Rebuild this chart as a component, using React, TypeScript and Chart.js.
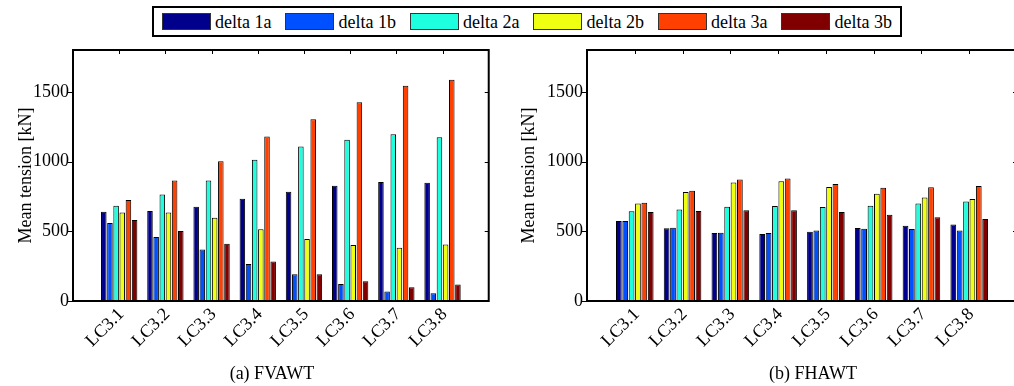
import React, { useEffect, useRef } from 'react';
import { Chart, registerables } from 'chart.js';

Chart.register(...registerables);

// ---------- data ----------
const categories = ['LC3.1', 'LC3.2', 'LC3.3', 'LC3.4', 'LC3.5', 'LC3.6', 'LC3.7', 'LC3.8'];
const seriesNames = ['delta 1a', 'delta 1b', 'delta 2a', 'delta 2b', 'delta 3a', 'delta 3b'];
const seriesColors = ['#00008C', '#0050FF', '#1EFFE0', '#EEFF12', '#FF4000', '#800000'];

// (a) FVAWT
const fvawtDelta1a = [640, 645, 676, 733, 784, 827, 853, 848];
const fvawtDelta1b = [559, 459, 370, 265, 191, 122, 69, 55];
const fvawtDelta2a = [683, 764, 865, 1013, 1108, 1156, 1195, 1175];
const fvawtDelta2b = [635, 635, 597, 514, 444, 401, 382, 406];
const fvawtDelta3a = [724, 865, 1003, 1180, 1304, 1426, 1543, 1586];
const fvawtDelta3b = [580, 502, 411, 284, 191, 141, 98, 119];

// (b) FHAWT
const fhawtDelta1a = [573, 521, 487, 480, 497, 523, 540, 549];
const fhawtDelta1b = [573, 526, 490, 487, 506, 518, 516, 506];
const fhawtDelta2a = [643, 657, 676, 681, 674, 683, 700, 714];
const fhawtDelta2b = [700, 781, 850, 858, 817, 769, 743, 731];
const fhawtDelta3a = [705, 791, 872, 879, 839, 812, 815, 824];
const fhawtDelta3b = [638, 645, 650, 650, 638, 619, 600, 588];

const yTicks = [0, 500, 1000, 1500];
const yMin = 0;
const yMax = 1800;
const yTitle = 'Mean tension [kN]';
const captionA = '(a) FVAWT';
const captionB = '(b) FHAWT';

const FONT = "'Liberation Serif', 'Times New Roman', serif";

const xLabels = ['', ...categories, ''];

const framePlugin = {
  id: 'matlabFrame',
  afterDatasetsDraw(chart: any) {
    const { ctx, chartArea: a, scales } = chart;
    const x = scales.x;
    const y = scales.y;
    ctx.save();
    ctx.strokeStyle = '#000';
    ctx.lineWidth = 1;
    ctx.beginPath();
    for (let i = 1; i <= categories.length; i++) {
      const px = Math.round(x.getPixelForValue(i)) + 0.5;
      ctx.moveTo(px, a.top);
      ctx.lineTo(px, a.top + 4);
    }
    for (const v of yTicks) {
      const py = Math.round(y.getPixelForValue(v)) + 0.5;
      ctx.moveTo(a.left - 5, py);
      ctx.lineTo(a.left, py);
      ctx.moveTo(a.right - 4, py);
      ctx.lineTo(a.right, py);
    }
    ctx.stroke();
    ctx.lineWidth = 2;
    ctx.strokeRect(a.left, a.top, a.right - a.left, a.bottom - a.top);
    ctx.restore();
  },
};

function BarPanel(props: {
  series: number[][];
  width: number;
  height: number;
  axisWidth: number;
  padRight: number;
  titlePad: number;
}) {
  const ref = useRef<HTMLCanvasElement | null>(null);
  useEffect(() => {
    if (!ref.current) return;
    const chart = new Chart(ref.current, {
      type: 'bar',
      data: {
        labels: xLabels,
        datasets: props.series.map((vals, i) => ({
          label: seriesNames[i],
          data: [null, ...vals, null],
          backgroundColor: seriesColors[i],
          borderColor: '#000',
          borderWidth: 1,
          categoryPercentage: 0.8,
          barPercentage: 0.9,
        })),
      },
      options: {
        animation: false,
        responsive: false,
        devicePixelRatio: 1,
        layout: { padding: { left: 0, right: props.padRight, top: 50, bottom: 0 } },
        plugins: {
          legend: { display: false },
          tooltip: { enabled: false },
          title: { display: false },
        },
        scales: {
          x: {
            type: 'category',
            offset: false,
            grid: { display: false, drawTicks: false },
            border: { display: false },
            ticks: {
              autoSkip: false,
              minRotation: 45,
              maxRotation: 45,
              padding: 3,
              labelOffset: 2,
              color: '#000',
              font: { family: FONT, size: 18 },
            },
            afterFit: (s: any) => {
              s.height = 85;
            },
          },
          y: {
            type: 'linear',
            min: yMin,
            max: yMax,
            grid: { display: false, drawTicks: false },
            border: { display: false },
            ticks: {
              padding: 4,
              color: '#000',
              font: { family: FONT, size: 18 },
              callback: (v: any) => String(v),
            },
            afterBuildTicks: (s: any) => {
              s.ticks = yTicks.map((v) => ({ value: v }));
            },
            afterFit: (s: any) => {
              s.width = props.axisWidth;
            },
            title: {
              display: true,
              text: yTitle,
              color: '#000',
              font: { family: FONT, size: 18 },
              padding: { top: props.titlePad, bottom: 0 },
            },
          },
        },
      },
      plugins: [framePlugin],
    });
    return () => chart.destroy();
  }, []);
  return <canvas ref={ref} width={props.width} height={props.height} style={{ width: props.width, height: props.height, display: 'block' }} />;
}

export default function App() {
  const fvawt = [fvawtDelta1a, fvawtDelta1b, fvawtDelta2a, fvawtDelta2b, fvawtDelta3a, fvawtDelta3b];
  const fhawt = [fhawtDelta1a, fhawtDelta1b, fhawtDelta2a, fhawtDelta2b, fhawtDelta3a, fhawtDelta3b];
  return (
    <div
      style={{
        position: 'fixed',
        left: 0,
        top: 0,
        width: 1014,
        height: 386,
        overflow: 'hidden',
        background: '#fff',
        fontFamily: FONT,
      }}
    >
      <div style={{ position: 'absolute', left: 0, top: 0 }}>
        <BarPanel series={fvawt} width={507} height={386} axisWidth={73} padRight={4} titlePad={15} />
      </div>
      <div style={{ position: 'absolute', left: 507, top: 0 }}>
        <BarPanel series={fhawt} width={530} height={386} axisWidth={80} padRight={20} titlePad={11} />
      </div>
      <div
        style={{
          position: 'absolute',
          left: 152,
          top: 6,
          height: 31,
          boxSizing: 'border-box',
          border: '2px solid #000',
          background: '#fff',
          display: 'flex',
          alignItems: 'center',
          padding: '0 8px',
        }}
      >
        {seriesNames.map((name, i) => (
          <div key={name} style={{ display: 'flex', alignItems: 'center', marginRight: i === seriesNames.length - 1 ? 0 : 14 }}>
            <div
              style={{
                width: 49,
                height: 17,
                boxSizing: 'border-box',
                border: '1px solid #333',
                background: seriesColors[i],
                marginRight: 4,
              }}
            />
            <span style={{ fontSize: 18, lineHeight: '18px', color: '#000', whiteSpace: 'nowrap' }}>{name}</span>
          </div>
        ))}
      </div>
      <div style={{ position: 'absolute', left: 172, width: 200, top: 364, textAlign: 'center', fontSize: 18, lineHeight: '18px', color: '#000' }}>
        {captionA}
      </div>
      <div style={{ position: 'absolute', left: 713, width: 200, top: 364, textAlign: 'center', fontSize: 18, lineHeight: '18px', color: '#000' }}>
        {captionB}
      </div>
    </div>
  );
}
